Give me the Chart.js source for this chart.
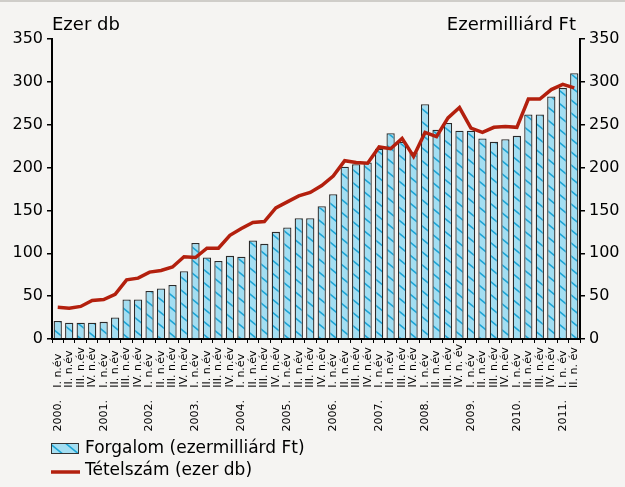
<!DOCTYPE html>
<html><head><meta charset="utf-8">
<script src="https://cdn.jsdelivr.net/npm/chart.js@4/dist/chart.umd.min.js"></script>
<style>
html,body{margin:0;padding:0;background:#f5f4f2;}
canvas{display:block}
</style></head><body>
<canvas id="c" width="625" height="487"></canvas>
<script>
// ---- data ----
const quarterLabels = [
 'I. n.év','II. n.év','III. n.év','IV. n.év',
 'I. n.év','II. n.év','III. n.év','IV. n.év',
 'I. n.év','II. n.év','III. n.év','IV. n.év',
 'I. n.év','II. n.év','III. n.év','IV. n.év',
 'I. n.év','II. n.év','III. n.év','IV. n.év',
 'I. n.év','II. n.év','III. n.év','IV. n.év',
 'I. n.év','II. n.év','III. n.év','IV. n.év',
 'I. n.év','II. n.év','III. n.év','IV. n.év',
 'I. n.év','II. n.év','III. n.év','IV. n. év',
 'I. n.év','II. n.év','III. n.év','IV. n.év',
 'I. n.év','II. n.év','III. n.év','IV. n.év',
 'I. n. év','II. n. év'
];
const yearLabels = [
 '2000.','','','', '2001.','','','', '2002.','','','', '2003.','','','',
 '2004.','','','', '2005.','','','', '2006.','','','', '2007.','','','',
 '2008.','','','', '2009.','','','', '2010.','','','', '2011.',''
];
const forgalom = [21,19,19,19, 20,25,46,46, 56,59,63,79, 112,95,91,97,
 96,115,111,125, 130,141,141,155, 169,201,204,206, 222,240,230,218,
 274,244,252,243, 243,234,230,233, 237,262,262,283, 293,310];
const tetelszam = [37,36,38,45, 46,52,69,71, 78,80,84,96, 95,106,106,121,
 129,136,137,153, 160,167,171,179, 190,208,206,205, 224,222,234,213,
 241,236,258,270, 246,241,247,248, 247,280,280,291, 297,293];
const yTicks = [0,50,100,150,200,250,300,350];
const leftTitle = 'Ezer db';
const rightTitle = 'Ezermilliárd Ft';
const seriesNames = ['Forgalom (ezermilliárd Ft)', 'Tételszám (ezer db)'];

// ---- styles ----
const FAM = '"DejaVu Sans", sans-serif';
const BG = '#f5f4f2';
const LINE_COLOR = '#b3200e';
const BAR_FILL = '#a3def2';
const STRIPE = '#1da5d6';

function makeHatch(){
  const w=16,h=13;
  const c=document.createElement('canvas'); c.width=w; c.height=h;
  const g=c.getContext('2d');
  g.fillStyle=BAR_FILL; g.fillRect(0,0,w,h);
  g.strokeStyle=STRIPE; g.lineWidth=1.6;
  g.beginPath();
  for(const k of [-1,0,1]){
    g.moveTo(-w, -h + k*h); g.lineTo(2*w, 2*h + k*h);
  }
  g.stroke();
  return g.createPattern(c,'repeat');
}
const ctx = document.getElementById('c').getContext('2d');
const hatch = makeHatch();

// pad quarter labels so they start at the same distance from the axis
const QFONT = '11px ' + FAM;
const mctx = document.createElement('canvas').getContext('2d');
mctx.font = QFONT;
const maxQ = Math.max(...quarterLabels.map(s=>mctx.measureText(s).width));
function padLabel(s){
  let out = s;
  while (mctx.measureText(out + '\u200A').width <= maxQ + 0.5) out += '\u200A';
  return out;
}

const bgPlugin = {
  id:'bg',
  beforeDraw(chart){
    const c=chart.ctx;
    c.save();
    c.fillStyle=BG; c.fillRect(0,0,chart.width,chart.height);
    c.fillStyle='#cfcdc9'; c.fillRect(0,0,chart.width,2);
    c.restore();
  },
  afterDraw(chart){
    const c=chart.ctx, a=chart.chartArea;
    c.save();
    c.fillStyle='#000';
    c.font='18px '+FAM;
    c.textBaseline='alphabetic';
    c.textAlign='left';
    c.fillText(leftTitle, a.left, 30);
    c.textAlign='right';
    c.fillText(rightTitle, a.right-4, 30);
    // legend
    c.font='17px '+FAM;
    c.textAlign='left'; c.textBaseline='middle';
    c.fillStyle=hatch;
    c.fillRect(51,443,28,11);
    c.strokeStyle='#333'; c.lineWidth=1;
    c.strokeRect(51.5,443.5,27,10);
    c.fillStyle='#000';
    c.fillText(seriesNames[0], 85, 449);
    c.strokeStyle=LINE_COLOR; c.lineWidth=3.5;
    c.beginPath(); c.moveTo(51,472); c.lineTo(80,472); c.stroke();
    c.fillText(seriesNames[1], 85, 471);
    c.restore();
  }
};

new Chart(ctx, {
  type:'bar',
  data:{
    labels: quarterLabels,
    datasets:[
      {type:'line', label:seriesNames[1], data:tetelszam, yAxisID:'y', xAxisID:'x',
       borderColor:LINE_COLOR, borderWidth:3.5, pointRadius:0, tension:0, order:0, fill:false},
      {type:'bar', label:seriesNames[0], data:forgalom, yAxisID:'y1', xAxisID:'x',
       backgroundColor:hatch, borderColor:'#2b2b2b', borderWidth:1.3,
       barPercentage:0.72, categoryPercentage:1, order:1}
    ]
  },
  options:{
    responsive:false, animation:false,
    layout:{padding:{top:39,left:0,right:0,bottom:55}},
    plugins:{legend:{display:false}, tooltip:{enabled:false}},
    scales:{
      x:{type:'category', position:'bottom', weight:0, offset:true,
         grid:{offset:true, drawOnChartArea:false, drawTicks:true, tickLength:4, color:'#000', lineWidth:1},
         border:{color:'#000', width:2},
         ticks:{autoSkip:false, maxRotation:90, minRotation:90, padding:1,
                font:{size:11, family:FAM}, color:'#000',
                callback:(v,i)=>padLabel(quarterLabels[i])},
         afterFit(s){s.height=58;}},
      x2:{type:'category', position:'bottom', weight:1, offset:true,
         grid:{display:false, drawTicks:false}, border:{display:false},
         ticks:{autoSkip:false, maxRotation:90, minRotation:90, padding:3,
                font:{size:11, family:FAM}, color:'#000',
                callback:(v,i)=>yearLabels[i]},
         afterFit(s){s.height=35;}},
      y:{position:'left', min:0, max:350,
         afterBuildTicks(s){s.ticks=yTicks.map(v=>({value:v}));},
         ticks:{padding:4, font:{size:16, family:FAM}, color:'#000'},
         grid:{drawOnChartArea:false, tickLength:5, color:'#000', lineWidth:1.5},
         border:{color:'#000', width:2},
         afterFit(s){s.width=52;}},
      y1:{position:'right', min:0, max:350,
         afterBuildTicks(s){s.ticks=yTicks.map(v=>({value:v}));},
         ticks:{padding:4, font:{size:16, family:FAM}, color:'#000'},
         grid:{drawOnChartArea:false, tickLength:5, color:'#000', lineWidth:1.5},
         border:{color:'#000', width:2},
         afterFit(s){s.width=45;}}
    }
  },
  plugins:[bgPlugin]
});
</script>
</body></html>
